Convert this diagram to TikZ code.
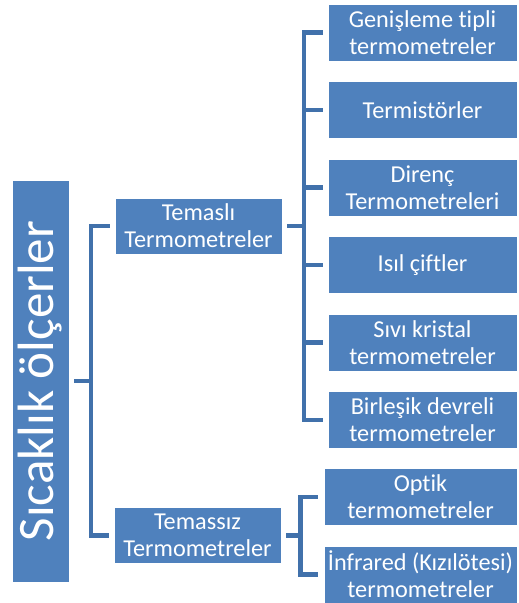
\documentclass[tikz,border=0pt]{standalone}
\usepackage{fontspec}
\setmainfont{Carlito}[Ligatures=NoCommon]
\definecolor{boxblue}{RGB}{79,129,189}
\definecolor{linkblue}{RGB}{65,113,171}
\tikzset{every picture/.style={line width=0.75pt}}
\tikzset{
	sbox/.style={draw=white, line width=0.4pt, fill=boxblue, text=white, inner sep=0pt, align=center, font=\fontsize{18.2}{20.25}\selectfont},
	leaf/.style={sbox, minimum width=141.75pt, minimum height=42.75pt},
	mid/.style={sbox, minimum width=125.25pt, minimum height=42pt},
	link/.style={draw=linkblue, line width=3.4pt},
}

\begin{document}
\begin{tikzpicture}[x=0.75pt,y=0.75pt,yscale=-1,xscale=1]
		\useasboundingbox (0,0) rectangle (518,603);
		
		%Shape: Rectangle (root)
		\node [sbox, minimum width=42.75pt, minimum height=301.5pt, font=\fontsize{38.3}{40}\selectfont] (root) at (40.5,381) {\rotatebox{90}{Sıcaklık ölçerler}};
		
		%Shape: Rectangle (second level)
		\node [mid] (temasli) at (198.5,226) {Temaslı\\Termometreler};
		\node [mid] (temassiz) at (197.5,535.5) {Temassız\\Termometreler};
		
		%Shape: Rectangle (leaves, contact)
		\node [leaf] (genis) at (422.5,32.5) {Genişleme tipli\\termometreler};
		\node [leaf] (termis) at (422.5,110) {Termistörler};
		\node [leaf] (direnc) at (422.5,187.5) {Direnç\\Termometreleri};
		\node [leaf] (isil) at (422.5,265) {Isıl çiftler};
		\node [leaf] (sivi) at (422.5,342.5) {Sıvı kristal\\termometreler};
		\node [leaf] (birles) at (422.5,420) {Birleşik devreli\\termometreler};
		
		%Shape: Rectangle (leaves, non-contact)
		\node [leaf, minimum width=144.75pt] (optik) at (420.5,497) {Optik\\termometreler};
		\node [leaf, minimum width=144.75pt] (infra) at (420.5,574.5) {İnfrared (Kızılötesi)\\termometreler};
		
		%brackets
		\coordinate (rootfork) at (91,381);
		\coordinate (topfork) at (304,226);
		\coordinate (lowfork) at (300.5,535.5);
		
		\draw [link] ([xshift=3.75pt]root.east) -- (rootfork);
		\draw [link] (rootfork) |- ([xshift=-3.75pt]temasli.west);
		\draw [link] (rootfork) |- ([xshift=-3.75pt]temassiz.west);
		
		\draw [link] ([xshift=3.75pt]temasli.east) -- (topfork);
		\foreach \leafname in {genis,termis,direnc,isil,sivi,birles}
			\draw [link] (topfork) |- ([xshift=-3.75pt]\leafname.west);
		
		\draw [link] ([xshift=3.75pt]temassiz.east) -- (lowfork);
		\foreach \leafname in {optik,infra}
			\draw [link] (lowfork) |- ([xshift=-4.5pt]\leafname.west);
		
\end{tikzpicture}
\end{document}
